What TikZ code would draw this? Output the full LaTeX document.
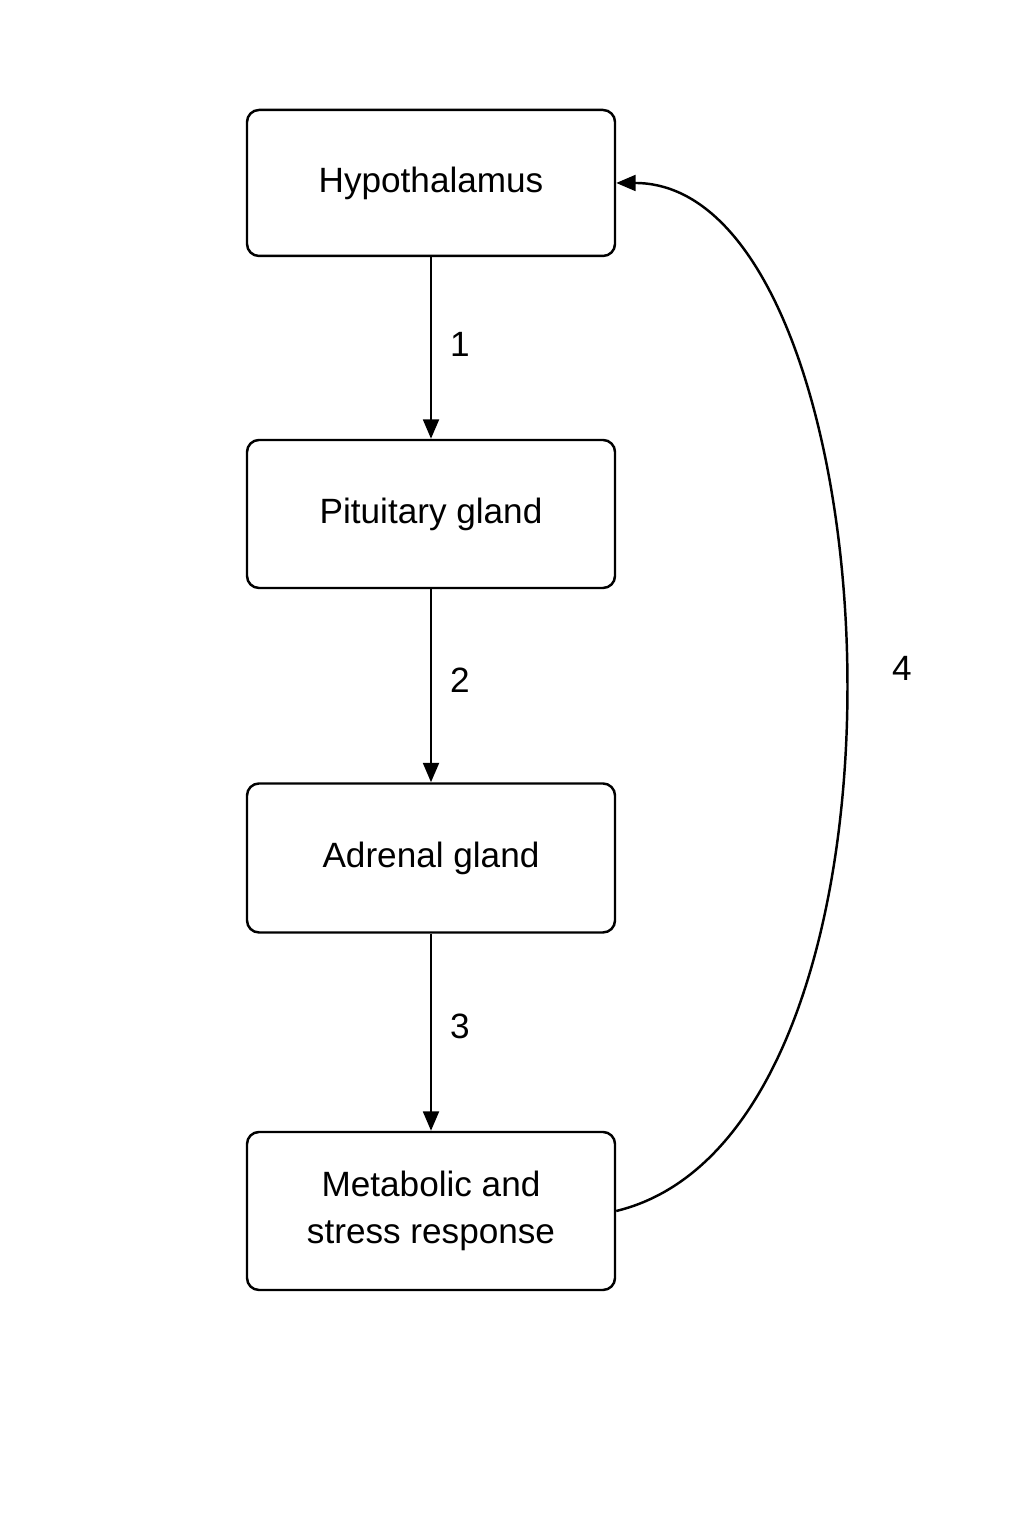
\documentclass[tikz,border=0pt]{standalone}
\usepackage{fontspec}
\setmainfont{Liberation Sans}
\usetikzlibrary{arrows.meta}

\begin{document}
\begin{tikzpicture}[>={Triangle[length=11pt,width=9pt]}, line width=1.4pt,
                    gland node/.style={draw,rounded corners=0.24cm,minimum width=7.36cm,
                    align=center,font=\fontsize{20}{27}\selectfont},
                    step label/.style={font=\fontsize{20}{24}\selectfont}]
      \useasboundingbox (0,0) rectangle (20.48,30.72);
      \node[gland node, minimum height=2.92cm] (hyp) at (8.62,27.06) {Hypothalamus};
      \node[gland node, minimum height=2.96cm] (pit) at (8.62,20.44) {Pituitary gland};
      \node[gland node, minimum height=2.98cm] (adr) at (8.62,13.56) {Adrenal gland};
      \node[gland node, minimum height=3.16cm] (met) at (8.62,6.5) {Metabolic and\\stress response};

      \path[->]
	(hyp) edge (pit)
	(pit) edge (adr)
	(adr) edge (met);
      \draw[->] (met.east) .. controls +(6.6,1.6) and +(5.6,0) .. (hyp.east);

      \node[step label] (l1) at (9.2,23.84) {1};
      \node[step label] (l2) at (9.2,17.12) {2};
      \node[step label] (l3) at (9.2,10.2) {3};
      \node[step label] (l4) at (18.04,17.36) {4};
    \end{tikzpicture}
\end{document}
